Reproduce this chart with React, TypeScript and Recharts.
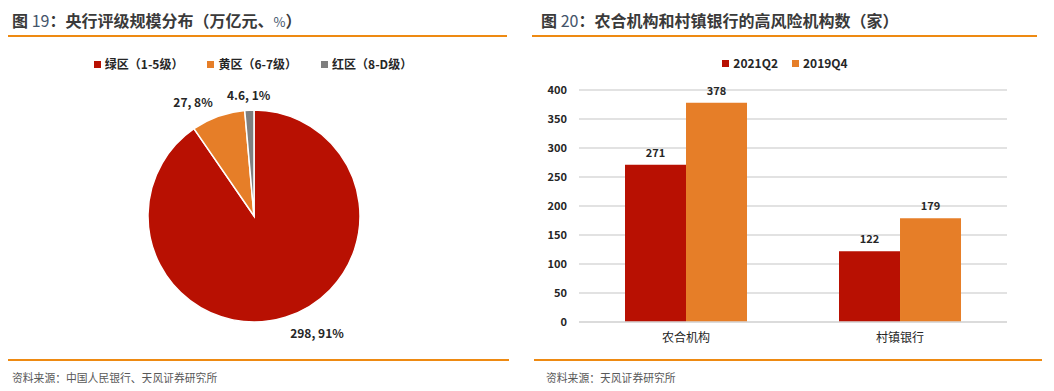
import React from 'react';
import { PieChart, Pie, Cell, BarChart, Bar, XAxis, YAxis, CartesianGrid, LabelList } from 'recharts';

const zoneNames = ['绿区（1-5级）', '黄区（6-7级）', '红区（8-D级）'];
const zoneValues = [298, 27, 4.6];
const zonePercents = [91, 8, 1];
const zoneColors = ['#B81002', '#E67E28', '#7F7F7F'];

const categories = ['农合机构', '村镇银行'];
const series2021Q2 = [271, 122];
const series2019Q4 = [378, 179];
const barSeriesNames = ['2021Q2', '2019Q4'];
const barColors = ['#B81002', '#E67E28'];
const yTicks = [0, 50, 100, 150, 200, 250, 300, 350, 400];

const FONT = "'Noto Sans CJK SC', 'Microsoft YaHei', 'Noto Sans', sans-serif";
const ORANGE_LINE = '#EE8A12';

const pieData = zoneNames.map((name, i) => ({ name, value: zoneValues[i] }));
const barData = categories.map((c, i) => ({ name: c, q2: series2021Q2[i], q4: series2019Q4[i] }));

const renderPieLabel = (props: any) => {
  const { cx, cy, midAngle, outerRadius, index } = props;
  const RAD = Math.PI / 180;
  const r = outerRadius + 16;
  const c = Math.cos(-midAngle * RAD);
  const s = Math.sin(-midAngle * RAD);
  const x = cx + r * c;
  const y = cy + r * s;
  const anchor = Math.abs(c) < 0.15 ? 'middle' : c > 0 ? 'start' : 'end';
  return (
    <text key={`pl-${index}`} x={x} y={y} textAnchor={anchor} dominantBaseline="central" fontSize={12} fontWeight={700} fill="#262626" fontFamily={FONT}>
      {`${zoneValues[index]}, ${zonePercents[index]}%`}
    </text>
  );
};

const LegendRow = ({ names, colors, gap, left, top, width }: any) => (
  <div style={{ position: 'absolute', left, top, width, display: 'flex', justifyContent: 'center', fontFamily: FONT, fontSize: 12, fontWeight: 700, color: '#262626', lineHeight: '18px' }}>
    {names.map((n: string, i: number) => (
      <div key={n} style={{ display: 'flex', alignItems: 'center', marginLeft: i === 0 ? 0 : gap }}>
        <span style={{ display: 'inline-block', width: 7, height: 7, background: colors[i], marginRight: 4 }} />
        <span>{n}</span>
      </div>
    ))}
  </div>
);

const Title = ({ left, num, pre, post, extra }: any) => (
  <div style={{ position: 'absolute', left, top: 8, fontFamily: FONT, fontSize: 16, fontWeight: 700, color: '#3a3a3a', whiteSpace: 'nowrap', lineHeight: '24px' }}>
    图 <span style={{ fontWeight: 400, color: '#44546A' }}>{num}</span>：{pre}
    {extra ? <span style={{ fontWeight: 400, color: '#44546A', fontSize: 13 }}>{extra}</span> : null}
    {post}
  </div>
);

const HLine = ({ left, width, top }: any) => (
  <div style={{ position: 'absolute', left, top, width, height: 1.5, background: ORANGE_LINE }} />
);

const Source = ({ left, text }: any) => (
  <div style={{ position: 'absolute', left, top: 369, fontFamily: FONT, fontSize: 12, color: '#595959', whiteSpace: 'nowrap', lineHeight: '18px', transform: 'scaleX(0.9)', transformOrigin: 'left' }}>
    {text}
  </div>
);

export default function App() {
  return (
    <div style={{ position: 'relative', margin: -8, width: 1054, height: 391, background: '#fff', overflow: 'hidden' }}>
      <div style={{ display: 'flex', width: 1054, height: 391 }}>
        <div style={{ width: 530, height: 391, flex: 'none' }}>
          <PieChart width={515} height={391} margin={{ top: 0, right: 0, bottom: 0, left: 0 }}>
            <Pie
              data={pieData}
              dataKey="value"
              nameKey="name"
              cx={254}
              cy={216}
              outerRadius={106}
              startAngle={90}
              endAngle={-270}
              stroke="#ffffff"
              strokeWidth={1.5}
              label={renderPieLabel}
              labelLine={false}
              isAnimationActive={false}
            >
              {pieData.map((d, i) => (
                <Cell key={d.name} fill={zoneColors[i]} />
              ))}
            </Pie>
          </PieChart>
        </div>
        <div style={{ width: 524, height: 391, flex: 'none' }}>
          <BarChart
            width={524}
            height={391}
            data={barData}
            margin={{ top: 90, right: 47, bottom: 39, left: 0 }}
            barCategoryGap="21.5%"
            barGap={0}
          >
            <CartesianGrid vertical={false} stroke="#D9D9D9" strokeWidth={1.5} />
            <XAxis
              dataKey="name"
              tickLine={false}
              axisLine={{ stroke: '#D9D9D9', strokeWidth: 1.5 }}
              tick={{ fontSize: 12, fill: '#262626', fontFamily: FONT }}
              tickMargin={5}
              height={30}
            />
            <YAxis
              width={49}
              domain={[0, 400]}
              ticks={yTicks}
              tickLine={false}
              axisLine={false}
              tickMargin={6}
              tick={{ fontSize: 11, fontWeight: 700, fill: '#262626', fontFamily: FONT }}
            />
            <Bar dataKey="q2" name={barSeriesNames[0]} fill={barColors[0]} isAnimationActive={false}>
              <LabelList dataKey="q2" position="top" offset={8} fontSize={11} fontWeight={700} fill="#262626" fontFamily={FONT} />
            </Bar>
            <Bar dataKey="q4" name={barSeriesNames[1]} fill={barColors[1]} isAnimationActive={false}>
              <LabelList dataKey="q4" position="top" offset={8} fontSize={11} fontWeight={700} fill="#262626" fontFamily={FONT} />
            </Bar>
          </BarChart>
        </div>
      </div>
      <LegendRow names={zoneNames} colors={zoneColors} gap={24} left={0} top={55} width={506} />
      <LegendRow names={barSeriesNames} colors={barColors} gap={14} left={530} top={54} width={510} />
      <Title left={12} num="19" pre="央行评级规模分布（万亿元、" extra="%" post="）" />
      <Title left={541} num="20" pre="农合机构和村镇银行的高风险机构数（家）" />
      <HLine left={1} width={506} top={35} />
      <HLine left={532} width={505} top={35} />
      <HLine left={0} width={509} top={359} />
      <HLine left={534} width={508} top={359} />
      <Source left={12} text="资料来源：中国人民银行、天风证券研究所" />
      <Source left={546} text="资料来源：天风证券研究所" />
    </div>
  );
}
